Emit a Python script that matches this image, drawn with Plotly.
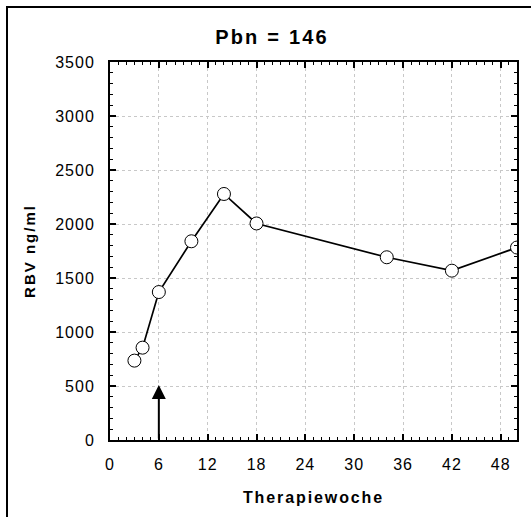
import plotly.graph_objects as go

# Data
weeks = [3, 4, 6, 10, 14, 18, 34, 42, 50]
rbv = [735, 855, 1370, 1840, 2278, 2005, 1692, 1568, 1782]
x_ticks = [0, 6, 12, 18, 24, 30, 36, 42, 48]
y_ticks = [0, 500, 1000, 1500, 2000, 2500, 3000, 3500]
title_text = "Pbn = 146"
x_title = "Therapiewoche"
y_title = "RBV ng/ml"
arrow_week = 6
arrow_tip = 510
arrow_base = 0

FONT = "Liberation Sans, Arial, sans-serif"

def spaced(t, ls):
    return f'<span style="letter-spacing:{ls}px">{t}</span>'

fig = go.Figure()
fig.add_trace(go.Scatter(
    x=weeks, y=rbv, mode="lines+markers",
    line=dict(color="black", width=1.7),
    marker=dict(symbol="circle", size=13, color="white",
                line=dict(color="black", width=1)),
    showlegend=False,
))

# Layout geometry (pixels)
W, H = 531, 517
L, R, T, B = 110, 14, 62, 77
pw = W - L - R
ph = H - T - B

def px2paper_x(px):
    return (px - L) / pw

def px2paper_y(py):
    return (H - B - py) / ph

fig.add_annotation(
    x=arrow_week, y=arrow_tip, ax=arrow_week, ay=arrow_base,
    xref="x", yref="y", axref="x", ayref="y",
    showarrow=True, arrowhead=2, arrowsize=1.4, arrowwidth=2,
    arrowcolor="black", text="",
)

# outer frame lines (left and top)
fig.add_shape(type="line", xref="paper", yref="paper",
              x0=px2paper_x(7), x1=px2paper_x(7),
              y0=px2paper_y(H), y1=px2paper_y(6),
              line=dict(color="black", width=2))
fig.add_shape(type="line", xref="paper", yref="paper",
              x0=px2paper_x(6), x1=px2paper_x(W),
              y0=px2paper_y(7), y1=px2paper_y(7),
              line=dict(color="black", width=2))

axis_common = dict(
    showline=True, linecolor="black", linewidth=2, mirror="allticks",
    ticks="inside", ticklen=6, tickwidth=1.5, tickcolor="black",
    showgrid=True, gridcolor="#c8c8c8", gridwidth=1, griddash="dot",
    zeroline=False,
    tickfont=dict(family=FONT, size=16, color="black"),
    minor=dict(ticks="inside", ticklen=3, tickwidth=1, tickcolor="black", showgrid=False),
)

fig.update_xaxes(
    range=[0, 50], tickmode="array", tickvals=x_ticks,
    ticktext=[spaced(str(v), 1) for v in x_ticks], minor_dtick=1, minor_tick0=0,
    title=dict(text=spaced("<b>" + x_title + "</b>", 1.9),
               font=dict(family=FONT, size=16, color="black"), standoff=20),
    ticklabelstandoff=9,
    **axis_common,
)
fig.update_yaxes(
    range=[0, 3500], tickmode="array", tickvals=y_ticks,
    ticktext=[spaced(str(v), 1) for v in y_ticks], minor_dtick=100, minor_tick0=0,
    title=dict(text=spaced("<b>" + y_title + "</b>", 2),
               font=dict(family=FONT, size=15, color="black"), standoff=16),
    ticklabelstandoff=10,
    **axis_common,
)

fig.update_layout(
    width=W, height=H,
    margin=dict(l=L, r=R, t=T, b=B, pad=0),
    paper_bgcolor="white", plot_bgcolor="white",
    font=dict(family=FONT, color="black"),
    title=dict(text=spaced("<b>" + title_text + "</b>", 2.2),
               x=272 / W, xanchor="center",
               y=1 - 37 / H, yanchor="middle",
               font=dict(family=FONT, size=20, color="black")),
)
fig.update_layout(title_xref="container", title_yref="container")

fig.write_html("out.html")
